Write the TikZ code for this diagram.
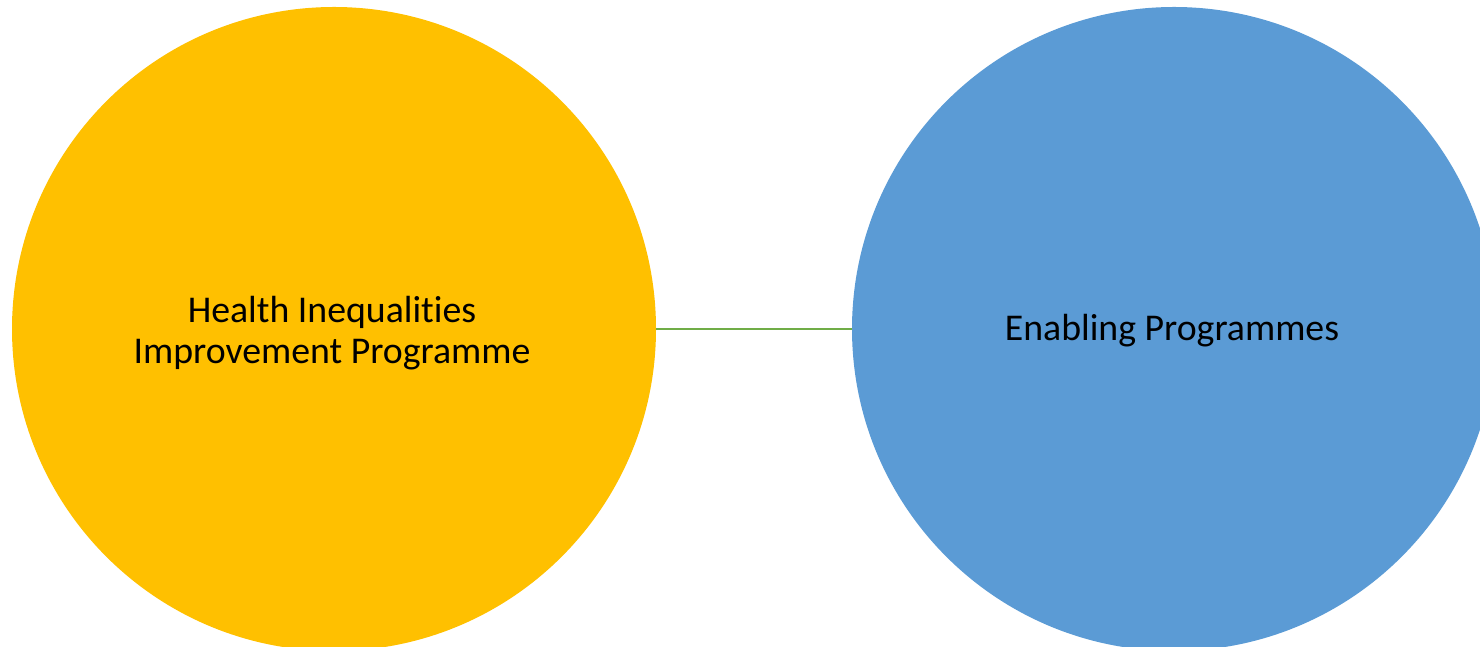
\documentclass[tikz,border=0pt]{standalone}
\usepackage{fontspec}
\setmainfont[Ligatures=NoCommon]{Carlito}
\usepackage{tikz}
\usetikzlibrary{positioning}

\definecolor{hiyellow}{HTML}{FFC000}
\definecolor{enblue}{HTML}{5B9BD5}
\definecolor{lkgreen}{HTML}{70AD47}

\begin{document}
\begin{tikzpicture}[x=1pt,y=1pt,
        prog/.style={
          circle,minimum size=644pt,inner sep=0pt
        },
        label text/.style={
          align=center,font=\fontsize{37.8}{41}\selectfont
        },
        link/.style={
          color=lkgreen,line width=1.3pt
        }
      ]
      \useasboundingbox (0,0) rectangle (1480,647);
      \node [prog,fill=hiyellow] (hi) at (334,318) {};
      \node [prog,fill=enblue] (en) at (1174,318) {};
      \node [label text] (hitext) at (332,314) {Health Inequalities\\Improvement Programme};
      \node [label text] (entext) at (1172,316) {Enabling Programmes};
      \draw [link] (hi) -- (en);
    \end{tikzpicture}
\end{document}
